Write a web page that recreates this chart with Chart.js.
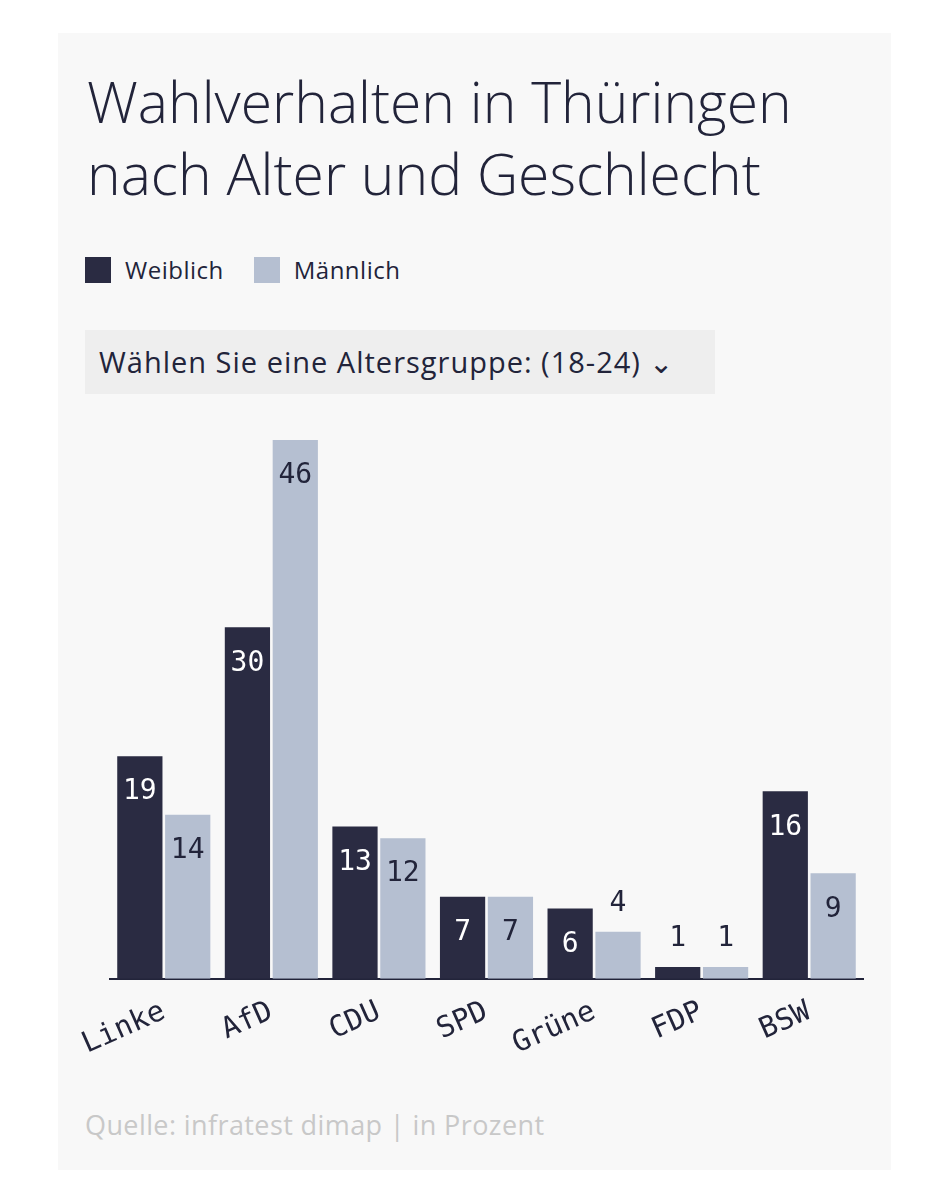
<!DOCTYPE html>
<html>
<head>
<meta charset="utf-8">
<script src="https://cdn.jsdelivr.net/npm/chart.js@4"></script>
<style>
body { margin: 0; background: #fff; width: 949px; height: 1200px; position: relative; font-family: "Open Sans", sans-serif; }
#card { position: absolute; left: 58px; top: 33px; width: 833px; height: 1137px; background: #f8f8f8; }
h1 { position: absolute; left: 29px; top: 32px; margin: 0; font-weight: 300; font-size: 57px; line-height: 72px; color: #22243a; white-space: nowrap; }
.legend { position: absolute; top: 220px; left: 27px; font-size: 24px; color: #22243a; display: flex; align-items: center; letter-spacing: 0.5px; }
.sw { width: 26px; height: 26px; display: inline-block; margin-right: 14px; }
.dropdown { position: absolute; left: 27px; top: 297px; width: 630px; height: 64px; background: #eeeeee; font-size: 29px; color: #22243a; line-height: 64px; box-sizing: border-box; padding-left: 14px; letter-spacing: 1px; }
.source { position: absolute; left: 27px; top: 1073px; font-size: 27px; color: #c8c8c8; letter-spacing: 0.4px; }
#wrap { position: absolute; left: 0; top: 347px; width: 833px; height: 690px; }
</style>
</head>
<body>
<div id="card">
<h1>Wahlverhalten in Thüringen<br>nach Alter und Geschlecht</h1>
<div class="legend"><span class="sw" style="background:#2a2b42"></span>Weiblich<span class="sw" style="background:#b5bfd1;margin-left:30px"></span>Männlich</div>
<div class="dropdown">Wählen Sie eine Altersgruppe: (18-24) &#8964;</div>
<div id="wrap"><canvas id="chart"></canvas></div>
<div class="source">Quelle: infratest dimap | in Prozent</div>
</div>
<script>
const parties = ["Linke", "AfD", "CDU", "SPD", "Grüne", "FDP", "BSW"];
const weiblich = [19, 30, 13, 7, 6, 1, 16];
const maennlich = [14, 46, 12, 7, 4, 1, 9];

const valueLabels = {
	id: "valueLabels",
	afterDatasetsDraw: function (chart) {
		const ctx = chart.ctx;
		ctx.save();
		ctx.font = "28px 'DejaVu Sans Mono'";
		ctx.textAlign = "center";
		chart.data.datasets.forEach(function (ds, i) {
			chart.getDatasetMeta(i).data.forEach(function (bar, j) {
				const v = ds.data[j];
				if (v < 5) {
					ctx.fillStyle = "#22243a";
					ctx.textBaseline = "bottom";
					ctx.fillText(v, bar.x, bar.y - 14);
				} else {
					ctx.fillStyle = i === 0 ? "#ffffff" : "#22243a";
					ctx.textBaseline = "top";
					ctx.fillText(v, bar.x, bar.y + 22);
				}
			});
		});
		ctx.restore();
	}
};

new Chart(document.getElementById("chart"), {
	type: "bar",
	data: {
		labels: parties,
		datasets: [
			{ label: "Weiblich", data: weiblich, backgroundColor: "#2a2b42" },
			{ label: "Männlich", data: maennlich, backgroundColor: "#b5bfd1" }
		]
	},
	options: {
		responsive: true,
		maintainAspectRatio: false,
		animation: false,
		categoryPercentage: 0.89,
		barPercentage: 0.945,
		layout: { padding: { left: 52, right: 28, top: 60 } },
		plugins: { legend: { display: false }, tooltip: { enabled: false } },
		scales: {
			y: { display: false, min: 0, max: 46 },
			x: {
				grid: { display: false },
				border: { color: "#22243a", width: 2 },
				ticks: {
					minRotation: 24,
					maxRotation: 24,
					color: "#22243a",
					font: { family: "DejaVu Sans Mono", size: 29 },
					padding: 8
				}
			}
		}
	},
	plugins: [valueLabels]
});
</script>
</body>
</html>
